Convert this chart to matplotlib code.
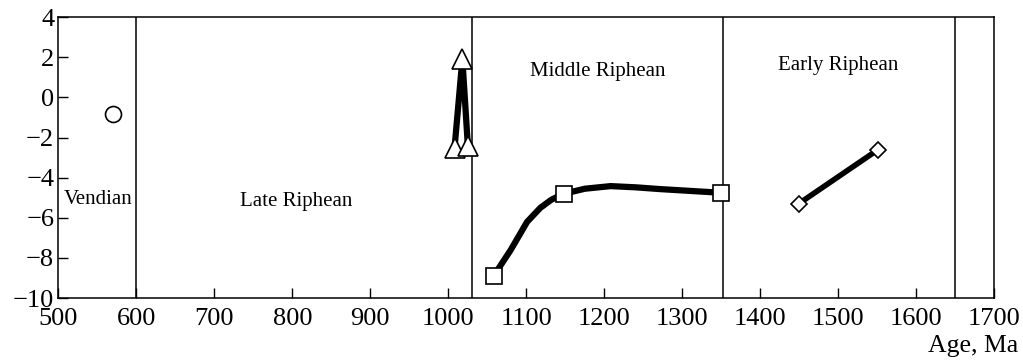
import matplotlib
matplotlib.use("Agg")
import matplotlib.pyplot as plt

# boundaries between periods, Ma
boundaries = [600, 1030, 1352, 1650]
period_names = ["Vendian", "Late Riphean", "Middle Riphean", "Early Riphean"]
period_x = [551, 805, 1191, 1500]
period_y = [-5.1, -5.2, 1.3, 1.6]

circle_x = [570]
circle_y = [-0.85]

tri_x = [1008, 1018, 1025]
tri_y = [-2.5, 1.9, -2.4]

sq_x = [1058, 1148, 1349]
sq_y = [-8.9, -4.8, -4.75]
sq_curve_x = [1058, 1080, 1101, 1118, 1132, 1148, 1175, 1208, 1240, 1272, 1349]
sq_curve_y = [-8.9, -7.6, -6.2, -5.5, -5.1, -4.8, -4.55, -4.42, -4.48, -4.57, -4.75]

dia_x = [1449, 1551]
dia_y = [-5.3, -2.6]

xticks = list(range(500, 1701, 100))
yticks = list(range(-10, 5, 2))

plt.rcParams["font.family"] = ["Liberation Serif", "DejaVu Serif"]

fig = plt.figure(figsize=(10.23, 3.64), dpi=100)
ax = fig.add_axes([0.057, 0.181, 0.915, 0.772])

for b in boundaries:
    ax.axvline(b, color="black", lw=1.1)

for name, x, y in zip(period_names, period_x, period_y):
    ax.text(x, y, name, ha="center", va="center", fontsize=15)

ax.plot(circle_x, circle_y, "o", ms=11.5, mfc="white", mec="black", mew=1.2)

ax.plot(tri_x, tri_y, "-", color="black", lw=4.5, zorder=3)
ax.plot(tri_x, tri_y, "^", ms=15, mfc="white", mec="black", mew=1.2, zorder=4)

ax.plot(sq_curve_x, sq_curve_y, "-", color="black", lw=4.5, zorder=3,
        solid_capstyle="round", solid_joinstyle="round")
ax.plot(sq_x, sq_y, "s", ms=11, mfc="white", mec="black", mew=1.2, zorder=4)

ax.plot(dia_x, dia_y, "-", color="black", lw=4, zorder=3)
ax.plot(dia_x, dia_y, "D", ms=8, mfc="white", mec="black", mew=1.2, zorder=4)

ax.set_xlim(500, 1700)
ax.set_ylim(-10, 4)
ax.set_xticks(xticks)
ax.set_yticks(yticks)
ax.set_yticklabels([str(v).replace("-", "\u2212") for v in yticks])
ax.tick_params(direction="in", length=7.5, width=1, labelsize=19,
               top=False, right=False)
ax.tick_params(axis="x", pad=7)
ax.tick_params(axis="y", pad=3)
for s in ax.spines.values():
    s.set_linewidth(1.1)

fig.text(0.995, 0.018, "Age, Ma", ha="right", va="bottom", fontsize=18.5)

fig.savefig("out.png", dpi=100)
